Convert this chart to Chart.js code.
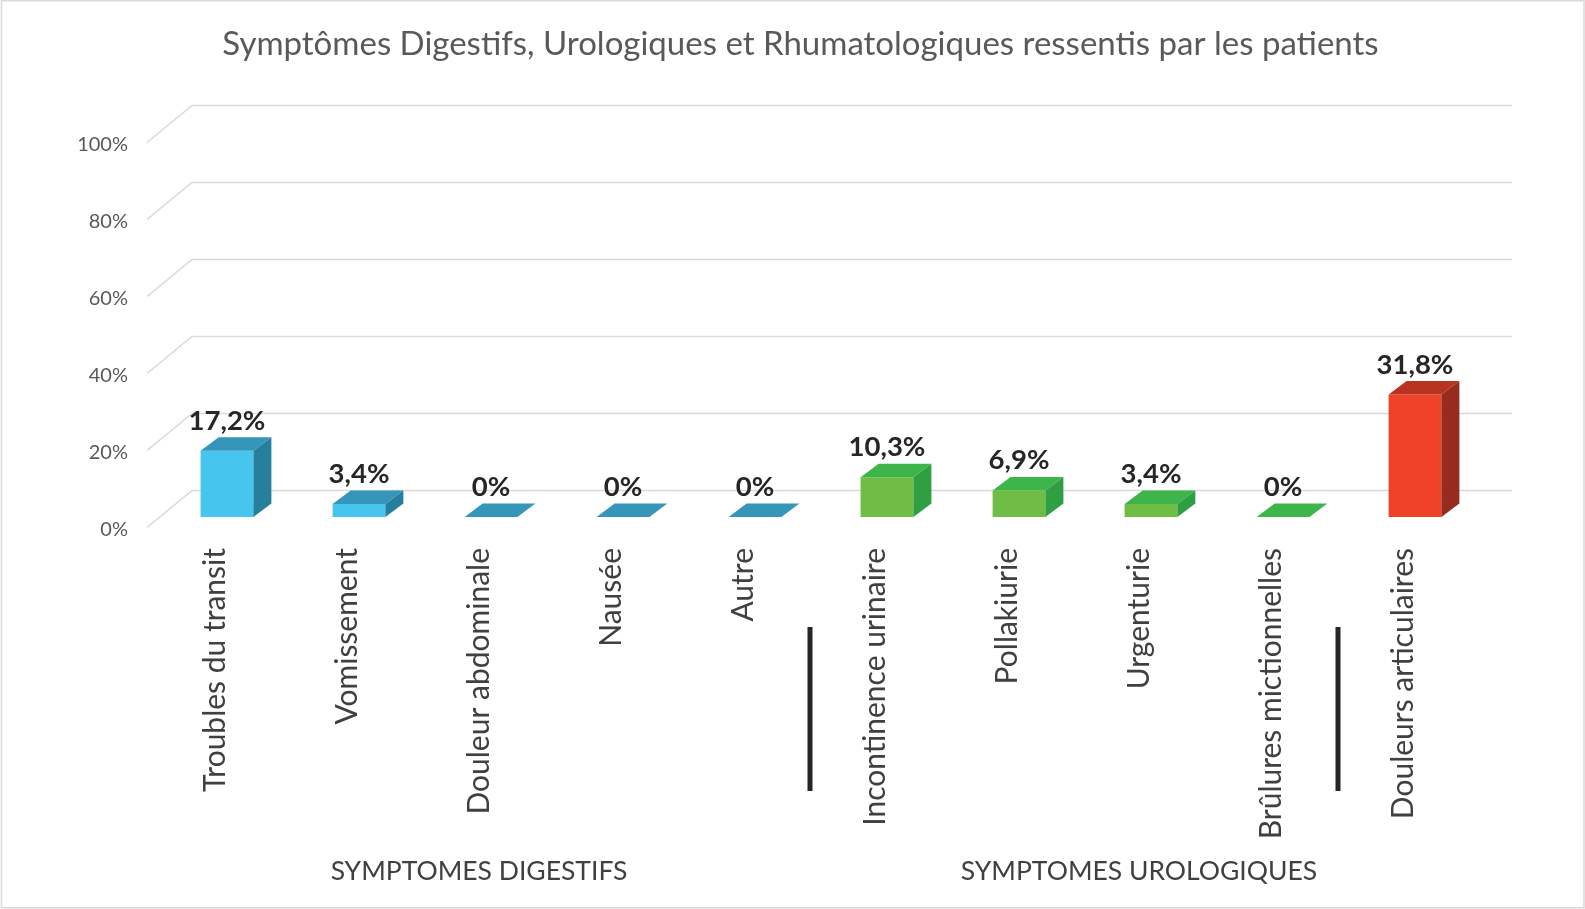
<!DOCTYPE html>
<html>
<head>
<meta charset="utf-8">
<script src="https://cdn.jsdelivr.net/npm/chart.js@4/dist/chart.umd.min.js"></script>
<style>
  html, body { margin: 0; padding: 0; background: #ffffff; }
  canvas { display: block; }
</style>
</head>
<body>
<canvas id="c" width="1585" height="909"></canvas>
<script>
// ---- data ----
const categories = [
  'Troubles du transit', 'Vomissement', 'Douleur abdominale', 'Nausée', 'Autre',
  'Incontinence urinaire', 'Pollakiurie', 'Urgenturie', 'Brûlures mictionnelles',
  'Douleurs articulaires'
];
const percentValues = [17.2, 3.4, 0, 0, 0, 10.3, 6.9, 3.4, 0, 31.8];
const categoryGroup = ['dig', 'dig', 'dig', 'dig', 'dig', 'uro', 'uro', 'uro', 'uro', 'rhu'];
const groupLabels = ['', '', 'SYMPTOMES DIGESTIFS', '', '', '', '', 'SYMPTOMES UROLOGIQUES', '', ''];
const separatorsAfter = [4, 8];
const yTicks = [0, 20, 40, 60, 80, 100];
const titleText = 'Symptômes Digestifs, Urologiques et Rhumatologiques ressentis par les patients';

// ---- styles ----
const palette = {
  dig: { front: '#46C5EF', top: '#3596BA', side: '#277F9E' },
  uro: { front: '#70BD46', top: '#3DB54A', side: '#2E9F43' },
  rhu: { front: '#EE4328', top: '#B93323', side: '#982B1F' }
};
const DEPTH_X = 18, DEPTH_Y = 13.5;           // bar depth
const WALL_X = 45, WALL_Y = 37;               // floor/back wall depth
const FRONT_SHIFT_X = -14, FRONT_SHIFT_Y = 10.5; // front of floor vs bar front

Chart.defaults.font.family = 'Lato, "Open Sans", sans-serif';

const chrome3d = {
  id: 'chrome3d',
  beforeDraw(chart) {
    const ctx = chart.ctx;
    ctx.save();
    ctx.strokeStyle = '#d9d9d9';
    ctx.lineWidth = 1.5;
    ctx.strokeRect(1.5, 0.75, chart.width - 2.5, chart.height - 2);
    ctx.restore();
  },
  beforeDatasetsDraw(chart) {
    const ctx = chart.ctx, y = chart.scales.y, area = chart.chartArea;
    const xFront = area.left + FRONT_SHIFT_X;
    ctx.save();
    ctx.strokeStyle = '#d9d9d9';
    ctx.lineWidth = 1.6;
    y.ticks.forEach(t => {
      const yb = y.getPixelForValue(t.value);
      ctx.beginPath();
      ctx.moveTo(xFront, yb + FRONT_SHIFT_Y);
      ctx.lineTo(xFront + WALL_X, yb + FRONT_SHIFT_Y - WALL_Y);
      ctx.lineTo(area.right + 31, yb + FRONT_SHIFT_Y - WALL_Y);
      ctx.stroke();
    });
    ctx.restore();
  },
  afterDatasetsDraw(chart) {
    const ctx = chart.ctx;
    const meta = chart.getDatasetMeta(0);
    ctx.save();
    meta.data.forEach((bar, i) => {
      const p = bar.getProps(['x', 'y', 'base', 'width'], true);
      const c = palette[categoryGroup[i]];
      const l = p.x - p.width / 2, r = p.x + p.width / 2;
      // top face
      ctx.fillStyle = c.top;
      ctx.beginPath();
      ctx.moveTo(l, p.y);
      ctx.lineTo(l + DEPTH_X, p.y - DEPTH_Y);
      ctx.lineTo(r + DEPTH_X, p.y - DEPTH_Y);
      ctx.lineTo(r, p.y);
      ctx.closePath();
      ctx.fill();
      // side face
      if (p.base - p.y > 0.5) {
        ctx.fillStyle = c.side;
        ctx.beginPath();
        ctx.moveTo(r, p.y);
        ctx.lineTo(r + DEPTH_X, p.y - DEPTH_Y);
        ctx.lineTo(r + DEPTH_X, p.base - DEPTH_Y);
        ctx.lineTo(r, p.base);
        ctx.closePath();
        ctx.fill();
      }
      // value label
      ctx.fillStyle = '#262626';
      ctx.font = 'bold 27.5px Lato, "Open Sans", sans-serif';
      ctx.textAlign = 'center';
      ctx.textBaseline = 'alphabetic';
      ctx.fillText(String(percentValues[i]).replace('.', ',') + '%', p.x, p.y - 21);
    });
    ctx.restore();
  },
  afterDraw(chart) {
    const ctx = chart.ctx, x = chart.scales.x, area = chart.chartArea;
    ctx.save();
    ctx.strokeStyle = '#262626';
    ctx.lineWidth = 5;
    separatorsAfter.forEach(idx => {
      const px = x.getPixelForValue(idx + 0.5) - 11;
      ctx.beginPath();
      ctx.moveTo(px, area.bottom + 110);
      ctx.lineTo(px, area.bottom + 274);
      ctx.stroke();
    });
    ctx.restore();
  }
};

new Chart(document.getElementById('c'), {
  type: 'bar',
  data: {
    labels: categories,
    datasets: [{
      data: percentValues,
      backgroundColor: categoryGroup.map(g => palette[g].front),
      borderWidth: 0,
      barPercentage: 0.4,
      categoryPercentage: 1.0
    }]
  },
  options: {
    responsive: false,
    animation: false,
    devicePixelRatio: 1,
    layout: { padding: { left: 16, right: 0, top: 0, bottom: 0 } },
    plugins: {
      legend: { display: false },
      tooltip: { enabled: false },
      title: {
        display: true,
        text: titleText,
        color: '#595959',
        font: { size: 33, weight: 'normal' },
        padding: { top: 24.7, bottom: 67.7 }
      }
    },
    scales: {
      y: {
        min: 0, max: 100,
        afterBuildTicks(scale) { scale.ticks = yTicks.map(v => ({ value: v })); },
        afterFit(scale) { scale.width = 145; },
        grid: { display: false },
        border: { display: false },
        ticks: {
          padding: 25,
          labelOffset: 12.5,
          color: '#595959',
          font: { size: 20 },
          callback: v => v + '%'
        }
      },
      yR: {
        position: 'right',
        afterFit(scale) { scale.width = 104; },
        grid: { display: false },
        border: { display: false },
        ticks: { display: false }
      },
      x: {
        weight: 0,
        afterFit(scale) { scale.height = 320; },
        grid: { display: false, drawTicks: false },
        border: { display: false },
        ticks: {
          autoSkip: false,
          maxRotation: 90, minRotation: 90,
          padding: 31,
          labelOffset: -12,
          color: '#404040',
          font: { size: 30 }
        }
      },
      x2: {
        type: 'category',
        position: 'bottom',
        weight: 1,
        labels: groupLabels,
        offset: true,
        afterFit(scale) { scale.height = 72; },
        grid: { display: false, drawTicks: false },
        border: { display: false },
        ticks: {
          autoSkip: false,
          maxRotation: 0, minRotation: 0,
          padding: 19,
          labelOffset: -12,
          color: '#404040',
          font: { size: 26.5 }
        }
      }
    }
  },
  plugins: [chrome3d]
});
</script>
</body>
</html>
